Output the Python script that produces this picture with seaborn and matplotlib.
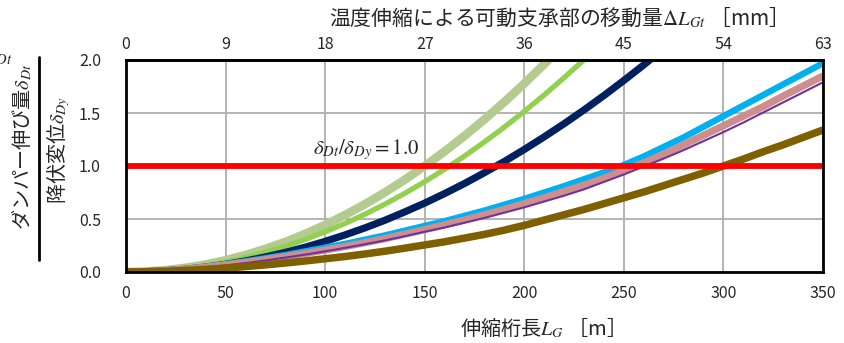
import numpy as np
import pandas as pd
import matplotlib
matplotlib.use("Agg")
import matplotlib.pyplot as plt
from matplotlib.lines import Line2D
import seaborn as sns

# Girder expansion length L_G [m]
girder_length = [0, 10, 20, 30, 40, 50, 60, 70, 80, 90, 100, 110, 120, 130, 140, 150,
                 160, 170, 180, 190, 200, 210, 220, 230, 240, 250, 260, 270, 280, 290,
                 300, 310, 320, 330, 340, 350]

# Damper elongation / yield displacement for each case
case_sage = [0, 0.004, 0.018, 0.04, 0.071, 0.111, 0.16, 0.218, 0.284, 0.36, 0.444,
             0.538, 0.64, 0.751, 0.871, 1.0, 1.138, 1.284, 1.44, 1.604, 1.778, 1.96, 2.151]
case_lightgreen = [0, 0.004, 0.015, 0.034, 0.061, 0.095, 0.136, 0.186, 0.242, 0.307, 0.379,
                   0.458, 0.545, 0.64, 0.742, 0.852, 0.969, 1.094, 1.227, 1.367, 1.515,
                   1.67, 1.833, 2.003, 2.181]
case_navy = [0, 0.003, 0.012, 0.026, 0.046, 0.072, 0.104, 0.142, 0.185, 0.234, 0.289,
             0.35, 0.416, 0.488, 0.567, 0.65, 0.74, 0.835, 0.937, 1.043, 1.156, 1.275,
             1.399, 1.529, 1.665, 1.807, 1.954, 2.107]
case_cyan = [0, 0.006, 0.015, 0.03, 0.05, 0.075, 0.1, 0.13, 0.16, 0.195, 0.23, 0.265,
             0.305, 0.345, 0.39, 0.435, 0.48, 0.53, 0.58, 0.635, 0.69, 0.75, 0.81, 0.875,
             0.94, 1.01, 1.09, 1.18, 1.27, 1.37, 1.47, 1.57, 1.67, 1.77, 1.87, 1.97]
case_pink = [0, 0.005, 0.013, 0.027, 0.045, 0.067, 0.09, 0.117, 0.145, 0.175, 0.207, 0.24,
             0.277, 0.315, 0.357, 0.40, 0.445, 0.49, 0.54, 0.59, 0.645, 0.70, 0.76, 0.82,
             0.885, 0.955, 1.03, 1.11, 1.20, 1.29, 1.38, 1.47, 1.56, 1.66, 1.755, 1.85]
case_purple = [0, 0.004, 0.012, 0.025, 0.042, 0.062, 0.084, 0.109, 0.136, 0.164, 0.195,
               0.228, 0.262, 0.298, 0.338, 0.38, 0.42, 0.465, 0.51, 0.56, 0.61, 0.665,
               0.72, 0.78, 0.85, 0.92, 0.995, 1.07, 1.15, 1.235, 1.32, 1.41, 1.505, 1.60,
               1.695, 1.79]
case_brown = [0, 0.002, 0.007, 0.015, 0.025, 0.037, 0.051, 0.067, 0.085, 0.104, 0.125,
              0.146, 0.17, 0.196, 0.225, 0.255, 0.285, 0.32, 0.355, 0.395, 0.44, 0.49,
              0.54, 0.59, 0.645, 0.70, 0.755, 0.815, 0.875, 0.935, 1.0, 1.065, 1.135,
              1.20, 1.27, 1.34]

# Limit ratio
ratio_limit = 1.0

# Axis ticks
bottom_ticks = [0, 50, 100, 150, 200, 250, 300, 350]
top_ticks = [0, 9, 18, 27, 36, 45, 54, 63]
y_ticks = [0.0, 0.5, 1.0, 1.5, 2.0]
movement_per_length = 63 / 350  # mm of movement per metre of girder

series = [
    ("sage", case_sage, "#b4cb8f", 6.2),
    ("lightgreen", case_lightgreen, "#92d050", 3.8),
    ("navy", case_navy, "#002060", 5.2),
    ("cyan", case_cyan, "#00b0f0", 4.6),
    ("pink", case_pink, "#cf8e8e", 5.2),
    ("purple", case_purple, "#7030a0", 1.5),
    ("brown", case_brown, "#7f6000", 5.4),
]

sns.set_style("white")
plt.rcParams["font.family"] = ["Noto Sans CJK JP", "DejaVu Sans"]
plt.rcParams["mathtext.fontset"] = "stix"

fig = plt.figure(figsize=(8.45, 3.43), dpi=100)
W, H = 845, 343
ax = fig.add_axes([126 / W, 1 - 272 / H, 697 / W, 212 / H])

for name, vals, color, lw in series:
    df = pd.DataFrame({"L": girder_length[:len(vals)], "ratio": vals})
    sns.lineplot(data=df, x="L", y="ratio", ax=ax, color=color, linewidth=lw,
                 solid_capstyle="butt", legend=False)

ax.axhline(ratio_limit, color="#ff0000", linewidth=4.2, zorder=5)

ax.set_xlim(0, 350)
ax.set_ylim(0, 2.0)
ax.set_xticks(bottom_ticks)
ax.set_yticks(y_ticks)
ax.set_yticklabels([f"{v:.1f}" for v in y_ticks])
ax.grid(True, color="#b3b3b3", linewidth=1.4)
ax.set_axisbelow(True)
for sp in ax.spines.values():
    sp.set_color("black")
    sp.set_linewidth(2.0)
    sp.set_zorder(10)
ax.tick_params(axis="x", length=0, pad=9, labelsize=11.5)
ax.tick_params(axis="y", length=0, pad=18, labelsize=11.5)
ax.set_xlabel("")
ax.set_ylabel("")

secax = ax.secondary_xaxis("top", functions=(lambda L: L * movement_per_length,
                                             lambda d: d / movement_per_length))
secax.set_xticks(top_ticks)
secax.tick_params(axis="x", length=0, pad=5, labelsize=11.5)
secax.spines["top"].set_linewidth(2.0)

ax.text(94, 1.04, r"$\delta_{Dt}/\delta_{Dy}\mathrm{=1.0}$", fontsize=15,
        ha="left", va="bottom", zorder=6)

fig.text(553 / W, 1 - 18 / H, r"温度伸縮による可動支承部の移動量$\Delta L_{Gt}$ ［mm］",
         ha="center", va="center", fontsize=15)
fig.text(537 / W, 1 - 328 / H, r"伸縮桁長$L_G$ ［m］",
         ha="center", va="center", fontsize=14.5)

# Stacked y-axis label drawn as a fraction
fig.text(22 / W, 1 - 147 / H, r"ダンパー伸び量$\delta_{Dt}$", rotation=90,
         ha="center", va="center", fontsize=14.5)
fig.add_artist(Line2D([39 / W, 39 / W], [1 - 57 / H, 1 - 260 / H],
                      transform=fig.transFigure, color="black", linewidth=2))
fig.text(58 / W, 1 - 150 / H, r"降伏変位$\delta_{Dy}$", rotation=90,
         ha="center", va="center", fontsize=14.5)
fig.text(12 / W, 1 - 56 / H, r"$\delta_{Dt}$", ha="right", va="center", fontsize=15)

fig.savefig("out.png", dpi=100)
